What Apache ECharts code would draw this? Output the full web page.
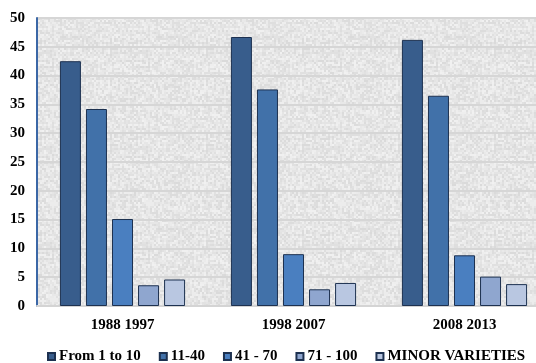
<!DOCTYPE html>
<html>
<head>
<meta charset="utf-8">
<script src="https://cdn.jsdelivr.net/npm/echarts@6/dist/echarts.min.js"></script>
<style>
  html, body { margin: 0; padding: 0; background: #fff; }
  #chart { width: 536px; height: 363px; }
</style>
</head>
<body>
<div id="chart"></div>
<script>
// Periods shown on the category axis
const periods = ['1988 1997', '1998 2007', '2008 2013'];

// One series per size class
const seriesNames = ['From 1 to 10', '11-40', '41 - 70', '71 - 100', 'MINOR VARIETIES'];
const from1to10 = [42.5, 46.7, 46.2];
const from11to40 = [34.2, 37.6, 36.5];
const from41to70 = [15.1, 9.0, 8.8];
const from71to100 = [3.6, 2.9, 5.1];
const minorVarieties = [4.6, 4.0, 3.8];

const yTicks = [0, 5, 10, 15, 20, 25, 30, 35, 40, 45, 50];

const seriesValues = [from1to10, from11to40, from41to70, from71to100, minorVarieties];
const colors = ['#385d8c', '#4171a9', '#4a7fc0', '#8fa6cf', '#b9c7e1'];

// Speckled light-grey fill for the plot area (2px grains)
function speckle() {
  const n = 48, g = 2;
  const c = document.createElement('canvas');
  c.width = n * g; c.height = n * g;
  const ctx = c.getContext('2d');
  let s = 12345;
  for (let y = 0; y < n; y++) {
    for (let x = 0; x < n; x++) {
      s = (s * 1103515245 + 12345) & 0x7fffffff;
      const v = 230 + ((s >> 8) % 24) - 12;
      ctx.fillStyle = 'rgb(' + v + ',' + v + ',' + v + ')';
      ctx.fillRect(x * g, y * g, g, g);
    }
  }
  return c;
}

const font = '"Liberation Serif", "Times New Roman", serif';
const chart = echarts.init(document.getElementById('chart'));
chart.setOption({
  animation: false,
  textStyle: { fontFamily: font },
  grid: {
    left: 37, width: 513, top: 18, height: 288,
    containLabel: false,
    outerBoundsMode: 'none',
    show: true, borderWidth: 0,
    backgroundColor: { image: speckle(), repeat: 'repeat' }
  },
  legend: {
    top: 344, left: 42,
    itemWidth: 7, itemHeight: 7, itemGap: 18,
    icon: 'rect',
    textStyle: { fontFamily: font, fontWeight: 'bold', fontSize: 15, color: '#000', padding: [0, 0, 0, -1] },
    data: seriesNames
  },
  xAxis: {
    type: 'category',
    data: periods,
    axisLine: { show: true, lineStyle: { color: '#d4d4d4', width: 2 } },
    axisTick: { show: false },
    axisLabel: { fontFamily: font, fontWeight: 'bold', fontSize: 15, color: '#000', margin: 12 }
  },
  yAxis: {
    type: 'value',
    min: yTicks[0], max: yTicks[yTicks.length - 1], interval: 5,
    axisLine: { show: true, lineStyle: { color: '#3b67a6', width: 2 } },
    axisTick: { show: false },
    splitLine: { lineStyle: { color: '#d6d6d6', width: 2 } },
    axisLabel: { fontFamily: font, fontWeight: 'bold', fontSize: 15, color: '#000', margin: 12 }
  },
  series: seriesNames.map((name, i) => ({
    name,
    type: 'bar',
    data: seriesValues[i],
    barWidth: 21,
    barGap: '24%',
    itemStyle: { color: colors[i], borderColor: '#1d3150', borderWidth: 1 }
  }))
});
</script>
</body>
</html>
